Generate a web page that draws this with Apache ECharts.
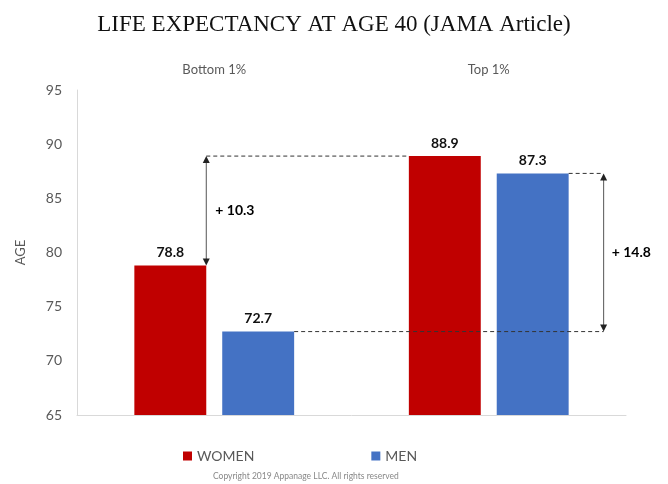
<!DOCTYPE html>
<html>
<head>
<meta charset="utf-8">
<script src="https://cdn.jsdelivr.net/npm/echarts@6/dist/echarts.min.js"></script>
<style>
  html, body { margin: 0; padding: 0; background: #fff; }
  #main { width: 668px; height: 484px; }
</style>
</head>
<body>
<div id="main"></div>
<script>
var categories = ['Bottom 1%', 'Top 1%'];
var women = [78.8, 88.9];
var men = [72.7, 87.3];
var gapLabels = ['+ 10.3', '+ 14.8'];
var yTicks = [65, 70, 75, 80, 85, 90, 95];

var BAR_FRAC = 0.262;   // bar width / band
var GAP_FRAC = 0.222;   // gap / bar width

var chart = echarts.init(document.getElementById('main'));

function arrowHead(x, y, dir) {
  // dir: -1 points up, 1 points down
  return {
    type: 'polygon',
    shape: { points: [[x, y], [x - 3.5, y - dir * 7], [x + 3.5, y - dir * 7]] },
    style: { fill: '#222' }
  };
}

function renderNotes(params, api) {
  var band = api.size([1, 0])[0];
  var w = band * BAR_FRAC;
  var g = w * GAP_FRAC;
  var c0 = api.coord([0, yTicks[0]])[0];
  var c1 = api.coord([1, yTicks[0]])[0];
  var dash = { stroke: '#333', lineWidth: 1, lineDash: [4, 3] };
  var solid = { stroke: '#555', lineWidth: 1 };
  var kids = [];

  if (params.dataIndex === 0) {
    var x = c0 - g / 2;
    var yLo = api.coord([0, women[0]])[1];
    var yHi = api.coord([1, women[1]])[1];
    kids.push({ type: 'line', shape: { x1: x, y1: yHi, x2: c1 - g / 2 - w, y2: yHi }, style: dash });
    kids.push({ type: 'line', shape: { x1: x, y1: yLo - 6, x2: x, y2: yHi + 6 }, style: solid });
    kids.push(arrowHead(x, yHi, -1));
    kids.push(arrowHead(x, yLo, 1));
    kids.push({ type: 'text', x: x + 9, y: (yLo + yHi) / 2,
      style: { text: gapLabels[0], fill: '#000', font: 'bold 14px Lato', verticalAlign: 'middle' } });
  } else {
    var xa = c1 + g / 2 + w + 35;
    var yL = api.coord([0, men[0]])[1];
    var yH = api.coord([1, men[1]])[1];
    kids.push({ type: 'line', shape: { x1: c0 + g / 2 + w, y1: yL, x2: xa, y2: yL }, style: dash });
    kids.push({ type: 'line', shape: { x1: c1 + g / 2 + w, y1: yH, x2: xa, y2: yH }, style: dash });
    kids.push({ type: 'line', shape: { x1: xa, y1: yH + 6, x2: xa, y2: yL - 6 }, style: solid });
    kids.push(arrowHead(xa, yH, -1));
    kids.push(arrowHead(xa, yL, 1));
    kids.push({ type: 'text', x: xa + 8, y: (yL + yH) / 2,
      style: { text: gapLabels[1], fill: '#000', font: 'bold 14px Lato', verticalAlign: 'middle' } });
  }
  return { type: 'group', children: kids };
}

var option = {
  animation: false,
  title: [
    {
      text: 'LIFE EXPECTANCY AT AGE 40 (JAMA Article)',
      left: 'center',
      top: 8,
      textStyle: { fontFamily: 'Liberation Serif', fontWeight: 'normal', fontSize: 23, color: '#111' }
    },
    {
      text: 'Copyright 2019 Appanage LLC. All rights reserved',
      left: 208,
      top: 467,
      textStyle: { fontFamily: 'Lato', fontWeight: 'normal', fontSize: 8.5, color: '#888' }
    }
  ],
  legend: {
    data: ['WOMEN', 'MEN'],
    left: 178,
    top: 444,
    itemWidth: 9,
    itemHeight: 9,
    itemGap: 117,
    icon: 'rect',
    textStyle: { fontFamily: 'Lato', fontSize: 14, color: '#595959' }
  },
  grid: { left: 77, right: 42, top: 90, bottom: 69 },
  xAxis: [
    {
      type: 'category',
      position: 'top',
      data: categories,
      axisLine: { show: false },
      axisTick: { show: false },
      axisLabel: { margin: 14, fontFamily: 'Lato', fontSize: 13, color: '#595959' }
    },
    {
      type: 'category',
      position: 'bottom',
      data: categories,
      axisLine: { show: true, lineStyle: { color: '#d9d9d9' } },
      axisTick: { show: false },
      axisLabel: { show: false }
    }
  ],
  yAxis: {
    type: 'value',
    min: yTicks[0],
    max: yTicks[yTicks.length - 1],
    interval: 5,
    name: 'AGE',
    nameLocation: 'middle',
    nameRotate: 90,
    nameGap: 50,
    nameTextStyle: { fontFamily: 'Lato', fontSize: 13, color: '#595959' },
    axisLine: { show: true, lineStyle: { color: '#d9d9d9' } },
    axisTick: { show: false },
    splitLine: { show: false },
    axisLabel: { margin: 15, fontFamily: 'Lato', fontSize: 14, color: '#595959' }
  },
  series: [
    {
      name: 'WOMEN',
      type: 'bar',
      data: women,
      barWidth: (BAR_FRAC * 100) + '%',
      barGap: (GAP_FRAC * 100) + '%',
      itemStyle: { color: '#C00000' },
      label: { show: true, position: 'top', distance: 6, fontFamily: 'Lato', fontWeight: 'bold', fontSize: 14, color: '#111' }
    },
    {
      name: 'MEN',
      type: 'bar',
      data: men,
      barWidth: (BAR_FRAC * 100) + '%',
      barGap: (GAP_FRAC * 100) + '%',
      itemStyle: { color: '#4472C4' },
      label: { show: true, position: 'top', distance: 6, fontFamily: 'Lato', fontWeight: 'bold', fontSize: 14, color: '#111' }
    },
    {
      type: 'custom',
      silent: true,
      z: 10,
      xAxisIndex: 0,
      yAxisIndex: 0,
      data: [[0, women[0]], [1, men[1]]],
      encode: { x: 0, y: 1 },
      renderItem: renderNotes
    }
  ]
};

chart.setOption(option);
</script>
</body>
</html>
